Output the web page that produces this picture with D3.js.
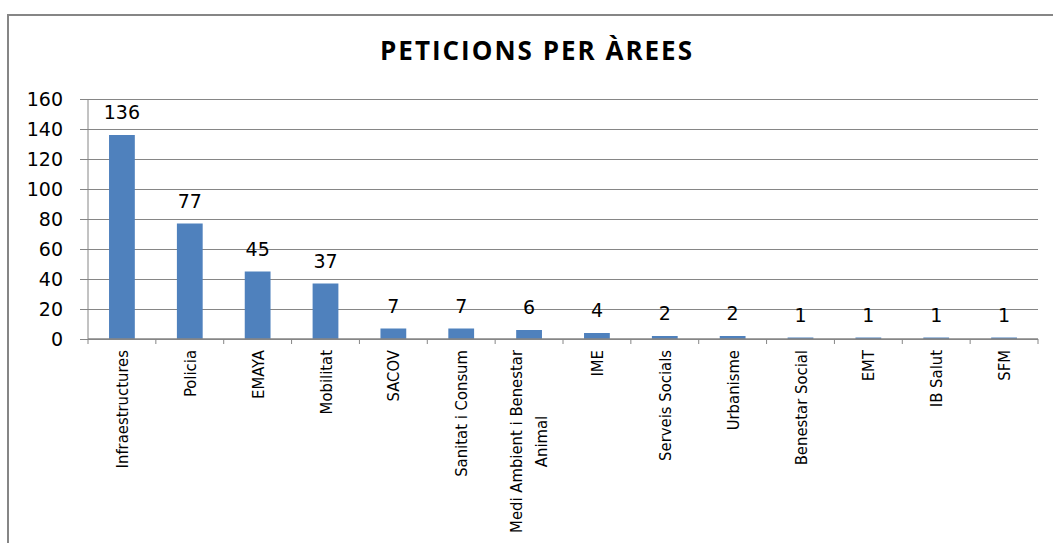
<!DOCTYPE html>
<html>
<head>
<meta charset="utf-8">
<script src="https://cdn.jsdelivr.net/npm/d3@7"></script>
<style>
  html, body { margin: 0; padding: 0; background: #fff; }
  svg { display: block; }
</style>
</head>
<body>
<div id="chart"></div>
<script>
const categories = ['Infraestructures', 'Policia', 'EMAYA', 'Mobilitat', 'SACOV', 'Sanitat i Consum',
  'Medi Ambient i Benestar Animal', 'IME', 'Serveis Socials', 'Urbanisme', 'Benestar Social', 'EMT', 'IB Salut', 'SFM'];
const values = [136, 77, 45, 37, 7, 7, 6, 4, 2, 2, 1, 1, 1, 1];
const yTicks = [0, 20, 40, 60, 80, 100, 120, 140, 160];
// labels that wrap onto two lines in the original
const labelLines = { 'Medi Ambient i Benestar Animal': ['Medi Ambient i Benestar', 'Animal'] };

const W = 1053, H = 543;
const m = { left: 88, right: 15, top: 99, bottom: 204 };

const svg = d3.select('#chart').append('svg').attr('width', W).attr('height', H);

// chart frame
svg.append('rect').attr('x', 8).attr('y', 15).attr('width', W + 20).attr('height', H + 20)
  .attr('fill', '#fff').attr('stroke', '#868686').attr('stroke-width', 2);

svg.append('text').attr('x', 537).attr('y', 60).attr('text-anchor', 'middle')
  .attr('font-family', '"Open Sans", sans-serif').attr('font-weight', 'bold')
  .attr('font-size', 26).attr('letter-spacing', 2).attr('fill', '#000').text('PETICIONS PER ÀREES');

const x = d3.scaleBand().domain(categories).range([m.left, W - m.right]).paddingInner(0.62).paddingOuter(0.31);
const y = d3.scaleLinear().domain([0, 160]).range([H - m.bottom, m.top]);

// gridlines + y axis
const yAxis = svg.append('g').attr('transform', `translate(${m.left},0)`)
  .call(d3.axisLeft(y).tickValues(yTicks).tickSize(-(W - m.right - m.left)).tickSizeOuter(0).tickPadding(25));
yAxis.select('.domain').remove();
yAxis.selectAll('.tick line').attr('stroke', '#868686').attr('x1', -8);
yAxis.selectAll('.tick text').attr('font-family', '"DejaVu Sans", sans-serif').attr('font-size', 19).attr('fill', '#000');
svg.append('line').attr('x1', m.left).attr('x2', m.left).attr('y1', m.top).attr('y2', y(0))
  .attr('stroke', '#868686');

// bars
svg.selectAll('rect.bar').data(values).join('rect').attr('class', 'bar')
  .attr('x', (d, i) => x(categories[i])).attr('width', x.bandwidth())
  .attr('y', d => y(d)).attr('height', d => y(0) - y(d)).attr('fill', '#4F81BD');

// value labels
svg.selectAll('text.val').data(values).join('text').attr('class', 'val')
  .attr('x', (d, i) => x(categories[i]) + x.bandwidth() / 2).attr('y', d => y(d) - 16)
  .attr('text-anchor', 'middle').attr('font-family', '"DejaVu Sans", sans-serif')
  .attr('font-size', 19).attr('fill', '#000').text(d => d);

// x axis with ticks at band edges
const step = x.step();
const edges = d3.range(categories.length + 1).map(i => m.left + i * step);
svg.append('line').attr('x1', m.left).attr('x2', W - m.right).attr('y1', y(0)).attr('y2', y(0))
  .attr('stroke', '#868686').attr('stroke-width', 1.5);
svg.selectAll('line.xt').data(edges).join('line').attr('class', 'xt')
  .attr('x1', d => d).attr('x2', d => d).attr('y1', y(0)).attr('y2', y(0) + 5).attr('stroke', '#868686');

// rotated category labels
categories.forEach(c => {
  const lines = labelLines[c] || [c];
  const cx = x(c) + x.bandwidth() / 2;
  const g = svg.append('g').attr('transform', `translate(${cx},${y(0) + 11}) rotate(-90)`)
    .attr('font-family', '"Liberation Sans Narrow", "DejaVu Sans Condensed", sans-serif')
    .attr('font-size', 16.5).attr('fill', '#000');
  if (lines.length === 1) {
    g.append('text').attr('x', 0).attr('y', 6).attr('text-anchor', 'end').text(lines[0]);
  } else {
    const first = g.append('text').attr('x', 0).attr('y', -7).attr('text-anchor', 'end').text(lines[0]);
    const len = first.node().getComputedTextLength();
    g.append('text').attr('x', -len / 2).attr('y', 18).attr('text-anchor', 'middle').text(lines[1]);
  }
});
</script>
</body>
</html>
